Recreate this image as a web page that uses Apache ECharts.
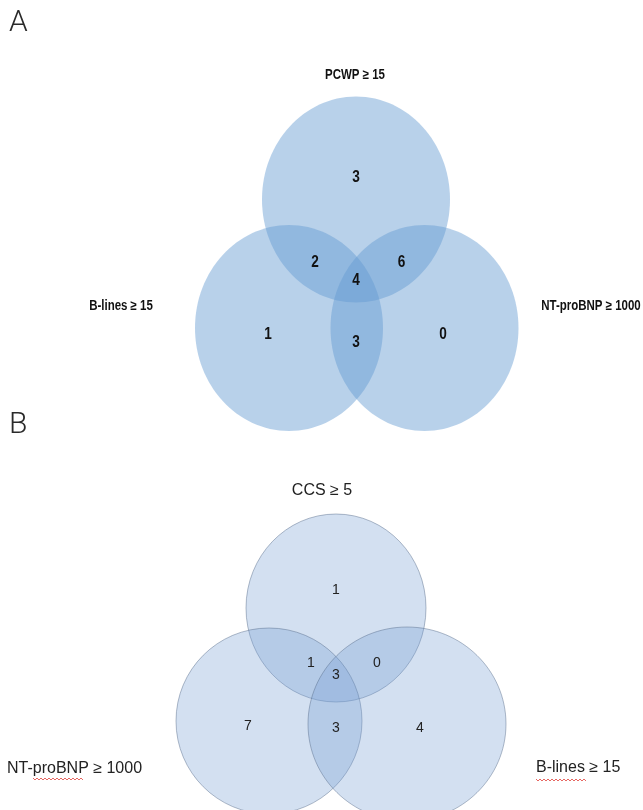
<!DOCTYPE html>
<html>
<head>
<meta charset="utf-8">
<script src="https://cdn.jsdelivr.net/npm/echarts@6/dist/echarts.min.js"></script>
<style>
html,body{margin:0;padding:0;background:#fff;}
#chart{width:643px;height:810px;}
</style>
</head>
<body>
<div id="chart"></div>
<script>
// ---------- DATA ----------
const panelTitles = ['A', 'B'];
// Panel A: sets and region counts
const panelASets = ['PCWP ≥ 15', 'B-lines ≥ 15', 'NT-proBNP ≥ 1000'];
const panelARegions = ['PCWP only', 'PCWP ∩ B-lines', 'PCWP ∩ NT-proBNP', 'All three', 'B-lines only', 'B-lines ∩ NT-proBNP', 'NT-proBNP only'];
const panelACounts = [3, 2, 6, 4, 1, 3, 0];
// Panel B: sets and region counts
const panelBSets = ['CCS ≥ 5', 'NT-proBNP ≥ 1000', 'B-lines ≥ 15'];
const panelBRegions = ['CCS only', 'CCS ∩ NT-proBNP', 'CCS ∩ B-lines', 'All three', 'NT-proBNP only', 'NT-proBNP ∩ B-lines', 'B-lines only'];
const panelBCounts = [1, 1, 0, 3, 7, 3, 4];

// ---------- LAYOUT (page units) ----------
const layoutAEllipses = [[356, 199.5, 94, 103], [289, 328, 94, 103], [424.5, 328, 94, 103]];
const layoutBEllipses = [[336, 608, 90, 94], [269, 721, 93, 93], [407, 724, 99, 97]];
const layoutARegionPos = [[356, 178], [315, 263], [401.5, 263], [356, 281], [268, 335], [356, 343], [443, 335]];
const layoutBRegionPos = [[336, 590], [311, 663], [377, 663], [336, 675], [248, 726], [336, 728], [420, 728]];
const layoutASetPos = [[355, 75, 'center'], [121, 306, 'center'], [591, 306, 'center']];
const layoutBSetPos = [[322, 491, 'center'], [7, 769, 'left'], [536, 768, 'left']];
const layoutTitlePos = [[9, 23], [9, 425]];

const fontA = '"Liberation Sans", Arial, sans-serif';
const fontB = '"Liberation Sans", Arial, Helvetica, sans-serif';

const ellipseData = [];
layoutAEllipses.forEach((e, i) => ellipseData.push({ value: e, name: panelASets[i], panel: 0 }));
layoutBEllipses.forEach((e, i) => ellipseData.push({ value: e, name: panelBSets[i], panel: 1 }));

const countData = [];
panelACounts.forEach((c, i) => countData.push({ value: [layoutARegionPos[i][0], layoutARegionPos[i][1], c], name: panelARegions[i], panel: 0 }));
panelBCounts.forEach((c, i) => countData.push({ value: [layoutBRegionPos[i][0], layoutBRegionPos[i][1], c], name: panelBRegions[i], panel: 1 }));

const setLabelData = [];
panelASets.forEach((s, i) => setLabelData.push({ value: [layoutASetPos[i][0], layoutASetPos[i][1]], name: s, align: layoutASetPos[i][2], panel: 0 }));
panelBSets.forEach((s, i) => setLabelData.push({ value: [layoutBSetPos[i][0], layoutBSetPos[i][1]], name: s, align: layoutBSetPos[i][2], panel: 1 }));

const titleData = panelTitles.map((t, i) => ({ value: layoutTitlePos[i], name: t }));

const chart = echarts.init(document.getElementById('chart'), null, { renderer: 'canvas' });

function squiggle(x0, x1, y) {
  const pts = [];
  let up = true;
  for (let x = x0; x <= x1; x += 2) { pts.push([x, y + (up ? -1 : 1)]); up = !up; }
  return { type: 'polyline', shape: { points: pts }, style: { stroke: '#e0403a', lineWidth: 0.8, fill: null }, silent: true };
}

chart.setOption({
  backgroundColor: '#ffffff',
  animation: false,
  grid: { left: 0, right: 0, top: 0, bottom: 0 },
  xAxis: { type: 'value', min: 0, max: 643, show: false },
  yAxis: { type: 'value', min: 0, max: 810, inverse: true, show: false },
  graphic: [squiggle(33, 83, 779), squiggle(536, 587, 780)],
  series: [
    {
      type: 'custom',
      data: ellipseData,
      clip: false,
      renderItem: function (params, api) {
        const d = ellipseData[params.dataIndex];
        const c = api.coord([api.value(0), api.value(1)]);
        const s = api.size([api.value(2), api.value(3)]);
        const style = d.panel === 0
          ? { fill: 'rgba(100,155,210,0.46)', stroke: null }
          : { fill: 'rgba(118,160,212,0.32)', stroke: 'rgba(80,100,130,0.55)', lineWidth: 0.8 };
        return { type: 'ellipse', shape: { cx: c[0], cy: c[1], rx: s[0], ry: s[1] }, style: style };
      }
    },
    {
      type: 'custom',
      data: countData,
      clip: false,
      z: 5,
      renderItem: function (params, api) {
        const d = countData[params.dataIndex];
        const c = api.coord([api.value(0), api.value(1)]);
        return {
          type: 'text',
          x: c[0], y: c[1],
          scaleX: d.panel === 0 ? 0.85 : 1,
          style: {
            x: 0, y: 0, text: String(api.value(2)),
            align: 'center', verticalAlign: 'middle',
            fill: d.panel === 0 ? '#111' : '#222',
            font: d.panel === 0 ? ('bold 16px ' + fontA) : ('14px ' + fontB)
          }
        };
      }
    },
    {
      type: 'custom',
      data: setLabelData,
      clip: false,
      z: 5,
      renderItem: function (params, api) {
        const d = setLabelData[params.dataIndex];
        const c = api.coord([api.value(0), api.value(1)]);
        return {
          type: 'text',
          x: c[0], y: c[1],
          scaleX: d.panel === 0 ? 0.82 : 1,
          style: {
            x: 0, y: 0, text: d.name,
            align: d.align, verticalAlign: 'middle',
            fill: d.panel === 0 ? '#111' : '#222',
            font: d.panel === 0 ? ('bold 14px ' + fontA) : ('16px ' + fontB)
          }
        };
      }
    },
    {
      type: 'custom',
      data: titleData,
      clip: false,
      z: 5,
      renderItem: function (params, api) {
        const c = api.coord([api.value(0), api.value(1)]);
        return {
          type: 'text',
          style: {
            x: c[0], y: c[1], text: titleData[params.dataIndex].name,
            align: 'left', verticalAlign: 'middle',
            fill: '#2a2a2a', font: '300 30px Roboto, "Liberation Sans", sans-serif'
          }
        };
      }
    }
  ]
});
</script>
</body>
</html>
